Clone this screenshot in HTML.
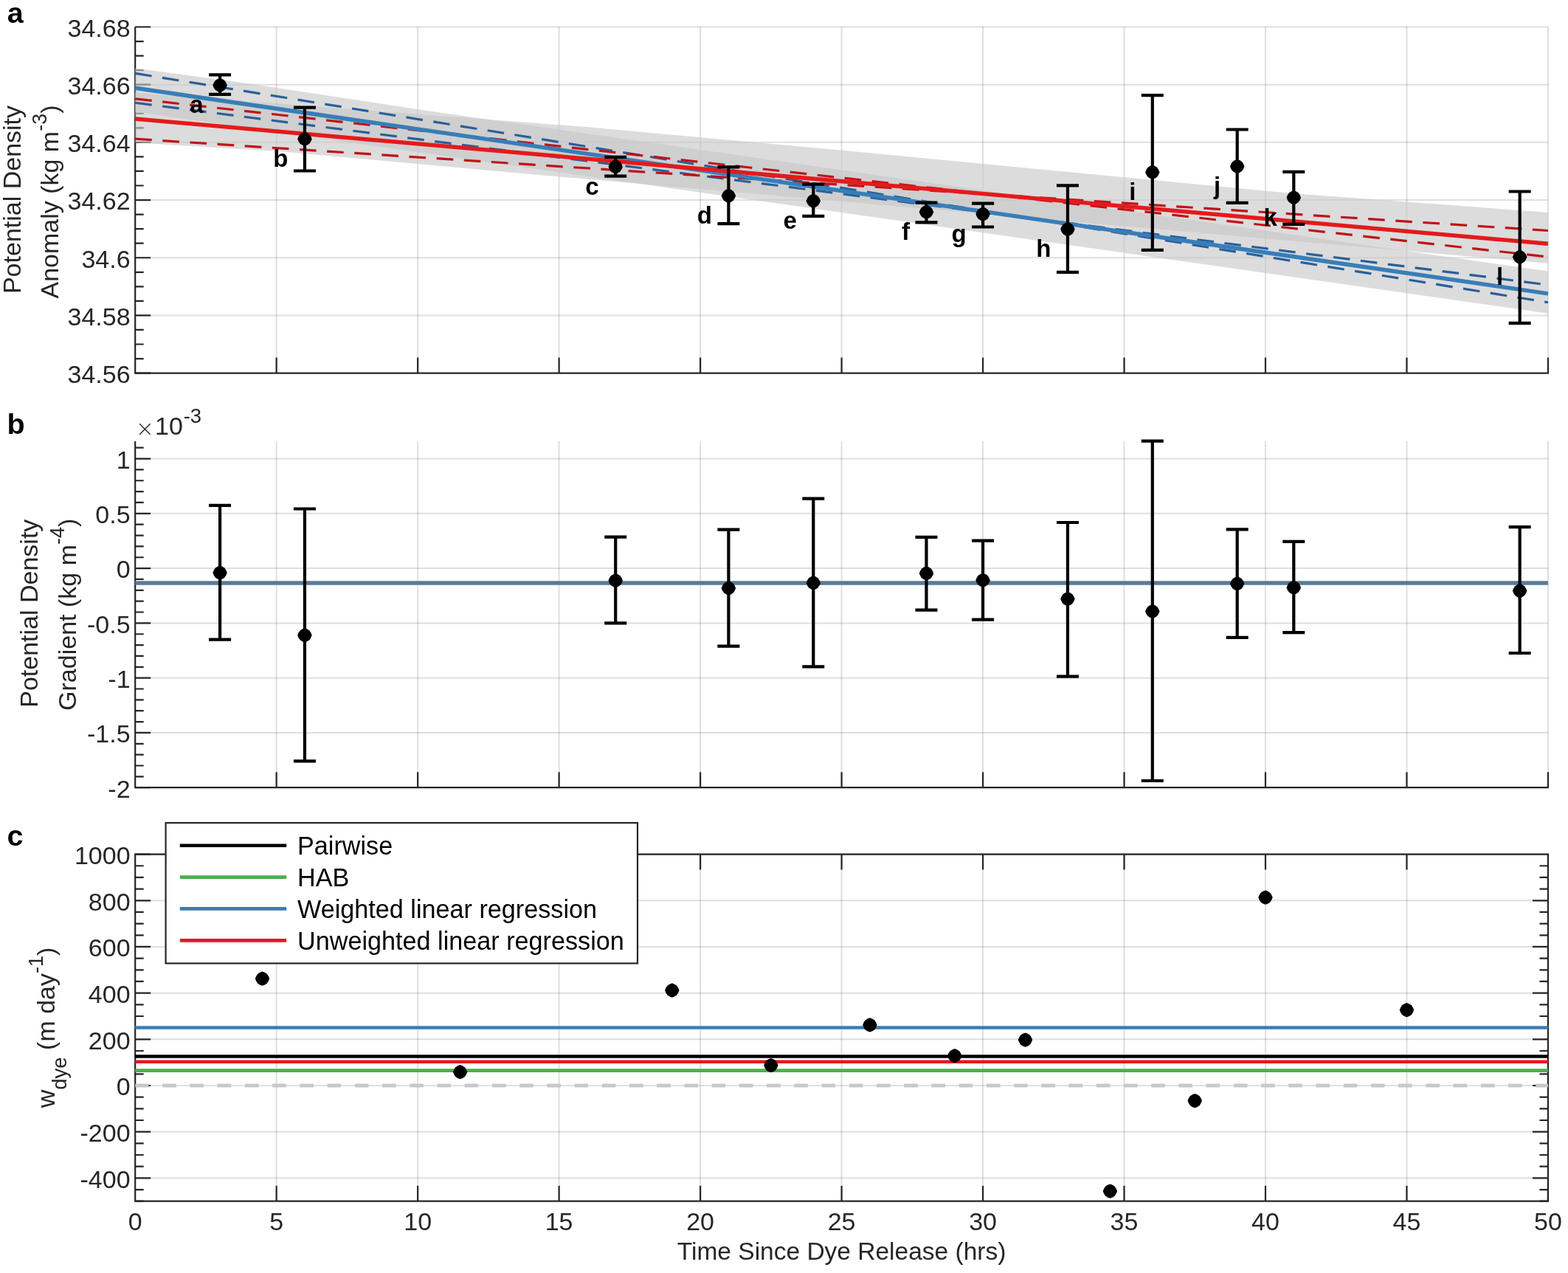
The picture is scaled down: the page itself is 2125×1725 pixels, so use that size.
<!DOCTYPE html><html><head><meta charset="utf-8"><title>Figure</title>
<style>html,body{margin:0;padding:0;background:#fff;}svg{display:block;}text{font-family:'Liberation Sans', Arial, Helvetica, sans-serif;}</style></head><body>
<svg width="2125" height="1725" viewBox="0 0 2125 1725">
<rect width="2125" height="1725" fill="#fff"/>
<path d="M374.68 36.5V505.6 M566.15 36.5V505.6 M757.62 36.5V505.6 M949.1 36.5V505.6 M1140.58 36.5V505.6 M1332.05 36.5V505.6 M1523.53 36.5V505.6 M1715 36.5V505.6 M1906.48 36.5V505.6 M2097.95 36.5V505.6" stroke="#262626" stroke-opacity="0.15" stroke-width="2" fill="none"/>
<path d="M183.2 427.42H2097.95 M183.2 349.23H2097.95 M183.2 271.05H2097.95 M183.2 192.87H2097.95 M183.2 114.68H2097.95 M183.2 36.5H2097.95" stroke="#262626" stroke-opacity="0.15" stroke-width="2" fill="none"/>
<path d="M183.2 36.5V505.6 M183.2 505.6h21 M183.2 427.42h21 M183.2 349.23h21 M183.2 271.05h21 M183.2 192.87h21 M183.2 114.68h21 M183.2 36.5h21 M183.2 486.05h11.5 M183.2 466.51h11.5 M183.2 446.96h11.5 M183.2 407.87h11.5 M183.2 388.32h11.5 M183.2 368.78h11.5 M183.2 329.69h11.5 M183.2 310.14h11.5 M183.2 290.6h11.5 M183.2 251.5h11.5 M183.2 231.96h11.5 M183.2 212.41h11.5 M183.2 173.32h11.5 M183.2 153.77h11.5 M183.2 134.23h11.5 M183.2 95.14h11.5 M183.2 75.59h11.5 M183.2 56.05h11.5" stroke="#262626" stroke-width="2.2" fill="none"/>
<path d="M182.1 505.6H2099.05 M374.68 505.6v-21 M566.15 505.6v-21 M757.62 505.6v-21 M949.1 505.6v-21 M1140.58 505.6v-21 M1332.05 505.6v-21 M1523.53 505.6v-21 M1715 505.6v-21 M1906.48 505.6v-21 M2097.95 505.6v-21" stroke="#262626" stroke-width="2.2" fill="none"/>
<path d="M183.2 125.7L800 172.4L1150 204.5L1750 261.9L2097.95 287.9L2097.95 356.9L705 234.8L383 205.5L183.2 193.3Z" fill="#c7c7c7" fill-opacity="0.63"/>
<path d="M183.2 92.5L332 112.5L568 148.4L2097.95 367.6L2097.95 424.7L183.2 151.5Z" fill="#c7c7c7" fill-opacity="0.63"/>
<path d="M183.2 99.38L2097.95 409.77" stroke="#2a5f9a" stroke-width="3.2" stroke-dasharray="22.65 14.56" fill="none"/>
<path d="M183.2 139.22L2097.95 386.03" stroke="#2a5f9a" stroke-width="3.2" stroke-dasharray="22.65 14.56" fill="none"/>
<path d="M183.2 133.82L2097.95 348.11" stroke="#be1419" stroke-width="3.2" stroke-dasharray="22.65 14.56" fill="none"/>
<path d="M183.2 188.18L2097.95 312.49" stroke="#be1419" stroke-width="3.2" stroke-dasharray="22.65 14.56" fill="none"/>
<path d="M183.2 119.3L2097.95 397.9" stroke="#377eb8" stroke-width="5.5" fill="none"/>
<path d="M183.2 161L2097.95 330.3" stroke="#e41a1c" stroke-width="5.5" fill="none"/>
<path d="M298.08 101.4V127.8M283.08 101.4h30M283.08 127.8h30" stroke="#000" stroke-width="4.2" fill="none"/>
<polygon points="307.78,115.5 306.4,118.94 304.45,121.86 301.53,123.81 298.08,125.2 294.64,123.81 291.72,121.86 289.77,118.94 288.38,115.5 289.77,112.06 291.72,109.14 294.64,107.19 298.08,105.8 301.53,107.19 304.45,109.14 306.4,112.06" fill="#000"/>
<path d="M412.97 145.7V231.5M397.97 145.7h30M397.97 231.5h30" stroke="#000" stroke-width="4.2" fill="none"/>
<polygon points="422.67,188.3 421.28,191.74 419.33,194.66 416.41,196.61 412.97,198 409.53,196.61 406.61,194.66 404.66,191.74 403.27,188.3 404.66,184.86 406.61,181.94 409.53,179.99 412.97,178.6 416.41,179.99 419.33,181.94 421.28,184.86" fill="#000"/>
<path d="M834.21 212.9V238.6M819.21 212.9h30M819.21 238.6h30" stroke="#000" stroke-width="4.2" fill="none"/>
<polygon points="843.91,225.9 842.53,229.34 840.58,232.26 837.66,234.21 834.21,235.6 830.77,234.21 827.85,232.26 825.9,229.34 824.51,225.9 825.9,222.46 827.85,219.54 830.77,217.59 834.21,216.2 837.66,217.59 840.58,219.54 842.53,222.46" fill="#000"/>
<path d="M987.39 226.4V303.2M972.39 226.4h30M972.39 303.2h30" stroke="#000" stroke-width="4.2" fill="none"/>
<polygon points="997.1,265.4 995.71,268.84 993.76,271.76 990.84,273.71 987.39,275.1 983.95,273.71 981.03,271.76 979.08,268.84 977.69,265.4 979.08,261.96 981.03,259.04 983.95,257.09 987.39,255.7 990.84,257.09 993.76,259.04 995.71,261.96" fill="#000"/>
<path d="M1102.28 249.6V292.8M1087.28 249.6h30M1087.28 292.8h30" stroke="#000" stroke-width="4.2" fill="none"/>
<polygon points="1111.98,272.2 1110.59,275.64 1108.64,278.56 1105.72,280.51 1102.28,281.9 1098.84,280.51 1095.92,278.56 1093.97,275.64 1092.58,272.2 1093.97,268.76 1095.92,265.84 1098.84,263.89 1102.28,262.5 1105.72,263.89 1108.64,265.84 1110.59,268.76" fill="#000"/>
<path d="M1255.46 274.6V301.4M1240.46 274.6h30M1240.46 301.4h30" stroke="#000" stroke-width="4.2" fill="none"/>
<polygon points="1265.16,287.3 1263.77,290.74 1261.82,293.66 1258.9,295.61 1255.46,297 1252.02,295.61 1249.1,293.66 1247.15,290.74 1245.76,287.3 1247.15,283.86 1249.1,280.94 1252.02,278.99 1255.46,277.6 1258.9,278.99 1261.82,280.94 1263.77,283.86" fill="#000"/>
<path d="M1332.05 275.6V307.5M1317.05 275.6h30M1317.05 307.5h30" stroke="#000" stroke-width="4.2" fill="none"/>
<polygon points="1341.75,290.1 1340.36,293.54 1338.41,296.46 1335.49,298.41 1332.05,299.8 1328.61,298.41 1325.69,296.46 1323.74,293.54 1322.35,290.1 1323.74,286.66 1325.69,283.74 1328.61,281.79 1332.05,280.4 1335.49,281.79 1338.41,283.74 1340.36,286.66" fill="#000"/>
<path d="M1446.94 251.3V368.8M1431.94 251.3h30M1431.94 368.8h30" stroke="#000" stroke-width="4.2" fill="none"/>
<polygon points="1456.64,310.6 1455.25,314.04 1453.3,316.96 1450.38,318.91 1446.94,320.3 1443.49,318.91 1440.57,316.96 1438.62,314.04 1437.24,310.6 1438.62,307.16 1440.57,304.24 1443.49,302.29 1446.94,300.9 1450.38,302.29 1453.3,304.24 1455.25,307.16" fill="#000"/>
<path d="M1561.82 129.2V338.8M1546.82 129.2h30M1546.82 338.8h30" stroke="#000" stroke-width="4.2" fill="none"/>
<polygon points="1571.52,233.4 1570.13,236.84 1568.18,239.76 1565.26,241.71 1561.82,243.1 1558.38,241.71 1555.46,239.76 1553.51,236.84 1552.12,233.4 1553.51,229.96 1555.46,227.04 1558.38,225.09 1561.82,223.7 1565.26,225.09 1568.18,227.04 1570.13,229.96" fill="#000"/>
<path d="M1676.71 175.5V274.9M1661.71 175.5h30M1661.71 274.9h30" stroke="#000" stroke-width="4.2" fill="none"/>
<polygon points="1686.41,225.5 1685.02,228.94 1683.07,231.86 1680.15,233.81 1676.71,235.2 1673.26,233.81 1670.34,231.86 1668.39,228.94 1667.01,225.5 1668.39,222.06 1670.34,219.14 1673.26,217.19 1676.71,215.8 1680.15,217.19 1683.07,219.14 1685.02,222.06" fill="#000"/>
<path d="M1753.3 232.8V303.8M1738.3 232.8h30M1738.3 303.8h30" stroke="#000" stroke-width="4.2" fill="none"/>
<polygon points="1763,267.7 1761.61,271.14 1759.66,274.06 1756.74,276.01 1753.3,277.4 1749.85,276.01 1746.93,274.06 1744.98,271.14 1743.6,267.7 1744.98,264.26 1746.93,261.34 1749.85,259.39 1753.3,258 1756.74,259.39 1759.66,261.34 1761.61,264.26" fill="#000"/>
<path d="M2059.66 259.5V437.8M2044.66 259.5h30M2044.66 437.8h30" stroke="#000" stroke-width="4.2" fill="none"/>
<polygon points="2069.36,348.3 2067.97,351.74 2066.02,354.66 2063.1,356.61 2059.66,358 2056.21,356.61 2053.29,354.66 2051.34,351.74 2049.96,348.3 2051.34,344.86 2053.29,341.94 2056.21,339.99 2059.66,338.6 2063.1,339.99 2066.02,341.94 2067.97,344.86" fill="#000"/>
<text x="275.58" y="153.3" text-anchor="end" font-size="33" font-weight="bold" fill="#000">a</text>
<text x="390.47" y="226.1" text-anchor="end" font-size="33" font-weight="bold" fill="#000">b</text>
<text x="811.71" y="263.7" text-anchor="end" font-size="33" font-weight="bold" fill="#000">c</text>
<text x="964.89" y="303.2" text-anchor="end" font-size="33" font-weight="bold" fill="#000">d</text>
<text x="1079.78" y="310" text-anchor="end" font-size="33" font-weight="bold" fill="#000">e</text>
<text x="1232.96" y="325.1" text-anchor="end" font-size="33" font-weight="bold" fill="#000">f</text>
<text x="1309.55" y="327.9" text-anchor="end" font-size="33" font-weight="bold" fill="#000">g</text>
<text x="1424.44" y="348.4" text-anchor="end" font-size="33" font-weight="bold" fill="#000">h</text>
<text x="1539.32" y="271.2" text-anchor="end" font-size="33" font-weight="bold" fill="#000">i</text>
<text x="1654.21" y="263.3" text-anchor="end" font-size="33" font-weight="bold" fill="#000">j</text>
<text x="1730.8" y="305.5" text-anchor="end" font-size="33" font-weight="bold" fill="#000">k</text>
<text x="2037.16" y="386.1" text-anchor="end" font-size="33" font-weight="bold" fill="#000">l</text>
<text x="176.6" y="518.9" text-anchor="end" font-size="34" fill="#262626">34.56</text>
<text x="176.6" y="440.72" text-anchor="end" font-size="34" fill="#262626">34.58</text>
<text x="176.6" y="362.53" text-anchor="end" font-size="34" fill="#262626">34.6</text>
<text x="176.6" y="284.35" text-anchor="end" font-size="34" fill="#262626">34.62</text>
<text x="176.6" y="206.17" text-anchor="end" font-size="34" fill="#262626">34.64</text>
<text x="176.6" y="127.98" text-anchor="end" font-size="34" fill="#262626">34.66</text>
<text x="176.6" y="49.8" text-anchor="end" font-size="34" fill="#262626">34.68</text>
<text transform="translate(27.6 270.5) rotate(-90)" text-anchor="middle" font-size="34" fill="#262626">Potential Density</text>
<text transform="translate(78.8 273.5) rotate(-90)" text-anchor="middle" font-size="34" fill="#262626">Anomaly (kg m<tspan font-size="27" dy="-16">-3</tspan><tspan dy="16">)</tspan></text>
<text x="9.8" y="31" font-size="39.5" font-weight="bold" fill="#000">a</text>
<path d="M374.68 598V1067.2 M566.15 598V1067.2 M757.62 598V1067.2 M949.1 598V1067.2 M1140.58 598V1067.2 M1332.05 598V1067.2 M1523.53 598V1067.2 M1715 598V1067.2 M1906.48 598V1067.2 M2097.95 598V1067.2" stroke="#262626" stroke-opacity="0.15" stroke-width="2" fill="none"/>
<path d="M183.2 992.93H2097.95 M183.2 918.65H2097.95 M183.2 844.38H2097.95 M183.2 770.1H2097.95 M183.2 695.83H2097.95 M183.2 621.55H2097.95" stroke="#262626" stroke-opacity="0.15" stroke-width="2" fill="none"/>
<path d="M183.2 598V1067.2 M183.2 1067.2h21 M183.2 992.93h21 M183.2 918.65h21 M183.2 844.38h21 M183.2 770.1h21 M183.2 695.83h21 M183.2 621.55h21 M183.2 1052.35h11.5 M183.2 1037.49h11.5 M183.2 1022.63h11.5 M183.2 1007.78h11.5 M183.2 978.07h11.5 M183.2 963.22h11.5 M183.2 948.36h11.5 M183.2 933.51h11.5 M183.2 903.8h11.5 M183.2 888.94h11.5 M183.2 874.09h11.5 M183.2 859.23h11.5 M183.2 829.52h11.5 M183.2 814.66h11.5 M183.2 799.81h11.5 M183.2 784.96h11.5 M183.2 755.25h11.5 M183.2 740.39h11.5 M183.2 725.53h11.5 M183.2 710.68h11.5 M183.2 680.97h11.5 M183.2 666.12h11.5 M183.2 651.26h11.5 M183.2 636.4h11.5 M183.2 606.69h11.5" stroke="#262626" stroke-width="2.2" fill="none"/>
<path d="M182.1 1067.2H2099.05 M374.68 1067.2v-21 M566.15 1067.2v-21 M757.62 1067.2v-21 M949.1 1067.2v-21 M1140.58 1067.2v-21 M1332.05 1067.2v-21 M1523.53 1067.2v-21 M1715 1067.2v-21 M1906.48 1067.2v-21 M2097.95 1067.2v-21" stroke="#262626" stroke-width="2.2" fill="none"/>
<path d="M183.2 789.9H2097.95" stroke="#587b9b" stroke-width="5.5" fill="none"/>
<path d="M298.08 684.9V866.7M283.08 684.9h30M283.08 866.7h30" stroke="#000" stroke-width="4.2" fill="none"/>
<polygon points="307.78,776.1 306.4,779.54 304.45,782.46 301.53,784.41 298.08,785.8 294.64,784.41 291.72,782.46 289.77,779.54 288.38,776.1 289.77,772.66 291.72,769.74 294.64,767.79 298.08,766.4 301.53,767.79 304.45,769.74 306.4,772.66" fill="#000"/>
<path d="M412.97 689.5V1031.4M397.97 689.5h30M397.97 1031.4h30" stroke="#000" stroke-width="4.2" fill="none"/>
<polygon points="422.67,860.8 421.28,864.24 419.33,867.16 416.41,869.11 412.97,870.5 409.53,869.11 406.61,867.16 404.66,864.24 403.27,860.8 404.66,857.36 406.61,854.44 409.53,852.49 412.97,851.1 416.41,852.49 419.33,854.44 421.28,857.36" fill="#000"/>
<path d="M834.21 727.7V844.3M819.21 727.7h30M819.21 844.3h30" stroke="#000" stroke-width="4.2" fill="none"/>
<polygon points="843.91,786.7 842.53,790.14 840.58,793.06 837.66,795.01 834.21,796.4 830.77,795.01 827.85,793.06 825.9,790.14 824.51,786.7 825.9,783.26 827.85,780.34 830.77,778.39 834.21,777 837.66,778.39 840.58,780.34 842.53,783.26" fill="#000"/>
<path d="M987.39 717.6V875.7M972.39 717.6h30M972.39 875.7h30" stroke="#000" stroke-width="4.2" fill="none"/>
<polygon points="997.1,797 995.71,800.44 993.76,803.36 990.84,805.31 987.39,806.7 983.95,805.31 981.03,803.36 979.08,800.44 977.69,797 979.08,793.56 981.03,790.64 983.95,788.69 987.39,787.3 990.84,788.69 993.76,790.64 995.71,793.56" fill="#000"/>
<path d="M1102.28 675.6V903.4M1087.28 675.6h30M1087.28 903.4h30" stroke="#000" stroke-width="4.2" fill="none"/>
<polygon points="1111.98,789.9 1110.59,793.34 1108.64,796.26 1105.72,798.21 1102.28,799.6 1098.84,798.21 1095.92,796.26 1093.97,793.34 1092.58,789.9 1093.97,786.46 1095.92,783.54 1098.84,781.59 1102.28,780.2 1105.72,781.59 1108.64,783.54 1110.59,786.46" fill="#000"/>
<path d="M1255.46 727.8V826.6M1240.46 727.8h30M1240.46 826.6h30" stroke="#000" stroke-width="4.2" fill="none"/>
<polygon points="1265.16,776.9 1263.77,780.34 1261.82,783.26 1258.9,785.21 1255.46,786.6 1252.02,785.21 1249.1,783.26 1247.15,780.34 1245.76,776.9 1247.15,773.46 1249.1,770.54 1252.02,768.59 1255.46,767.2 1258.9,768.59 1261.82,770.54 1263.77,773.46" fill="#000"/>
<path d="M1332.05 732.6V839.6M1317.05 732.6h30M1317.05 839.6h30" stroke="#000" stroke-width="4.2" fill="none"/>
<polygon points="1341.75,786.2 1340.36,789.64 1338.41,792.56 1335.49,794.51 1332.05,795.9 1328.61,794.51 1325.69,792.56 1323.74,789.64 1322.35,786.2 1323.74,782.76 1325.69,779.84 1328.61,777.89 1332.05,776.5 1335.49,777.89 1338.41,779.84 1340.36,782.76" fill="#000"/>
<path d="M1446.94 708V916.7M1431.94 708h30M1431.94 916.7h30" stroke="#000" stroke-width="4.2" fill="none"/>
<polygon points="1456.64,811.6 1455.25,815.04 1453.3,817.96 1450.38,819.91 1446.94,821.3 1443.49,819.91 1440.57,817.96 1438.62,815.04 1437.24,811.6 1438.62,808.16 1440.57,805.24 1443.49,803.29 1446.94,801.9 1450.38,803.29 1453.3,805.24 1455.25,808.16" fill="#000"/>
<path d="M1561.82 597.6V1058M1546.82 597.6h30M1546.82 1058h30" stroke="#000" stroke-width="4.2" fill="none"/>
<polygon points="1571.52,828.5 1570.13,831.94 1568.18,834.86 1565.26,836.81 1561.82,838.2 1558.38,836.81 1555.46,834.86 1553.51,831.94 1552.12,828.5 1553.51,825.06 1555.46,822.14 1558.38,820.19 1561.82,818.8 1565.26,820.19 1568.18,822.14 1570.13,825.06" fill="#000"/>
<path d="M1676.71 717.4V863.8M1661.71 717.4h30M1661.71 863.8h30" stroke="#000" stroke-width="4.2" fill="none"/>
<polygon points="1686.41,790.9 1685.02,794.34 1683.07,797.26 1680.15,799.21 1676.71,800.6 1673.26,799.21 1670.34,797.26 1668.39,794.34 1667.01,790.9 1668.39,787.46 1670.34,784.54 1673.26,782.59 1676.71,781.2 1680.15,782.59 1683.07,784.54 1685.02,787.46" fill="#000"/>
<path d="M1753.3 733.8V857.1M1738.3 733.8h30M1738.3 857.1h30" stroke="#000" stroke-width="4.2" fill="none"/>
<polygon points="1763,796.2 1761.61,799.64 1759.66,802.56 1756.74,804.51 1753.3,805.9 1749.85,804.51 1746.93,802.56 1744.98,799.64 1743.6,796.2 1744.98,792.76 1746.93,789.84 1749.85,787.89 1753.3,786.5 1756.74,787.89 1759.66,789.84 1761.61,792.76" fill="#000"/>
<path d="M2059.66 714.1V885M2044.66 714.1h30M2044.66 885h30" stroke="#000" stroke-width="4.2" fill="none"/>
<polygon points="2069.36,800.6 2067.97,804.04 2066.02,806.96 2063.1,808.91 2059.66,810.3 2056.21,808.91 2053.29,806.96 2051.34,804.04 2049.96,800.6 2051.34,797.16 2053.29,794.24 2056.21,792.29 2059.66,790.9 2063.1,792.29 2066.02,794.24 2067.97,797.16" fill="#000"/>
<text x="176.6" y="1080.5" text-anchor="end" font-size="34" fill="#262626">-2</text>
<text x="176.6" y="1006.23" text-anchor="end" font-size="34" fill="#262626">-1.5</text>
<text x="176.6" y="931.95" text-anchor="end" font-size="34" fill="#262626">-1</text>
<text x="176.6" y="857.67" text-anchor="end" font-size="34" fill="#262626">-0.5</text>
<text x="176.6" y="783.4" text-anchor="end" font-size="34" fill="#262626">0</text>
<text x="176.6" y="709.12" text-anchor="end" font-size="34" fill="#262626">0.5</text>
<text x="176.6" y="634.85" text-anchor="end" font-size="34" fill="#262626">1</text>
<text font-size="34" fill="#262626"><tspan x="184.1" y="590.6" font-family="DejaVu Sans" font-weight="200" font-size="29.6">×</tspan><tspan x="210" y="588.8">10</tspan><tspan x="248.7" y="572.7" font-size="27.5">-3</tspan></text>
<text transform="translate(51.3 831.2) rotate(-90)" text-anchor="middle" font-size="34" fill="#262626">Potential Density</text>
<text transform="translate(102.5 832.8) rotate(-90)" text-anchor="middle" font-size="34" fill="#262626">Gradient (kg m<tspan font-size="27" dy="-16">-4</tspan><tspan dy="16">)</tspan></text>
<text x="9.4" y="588.3" font-size="39.5" font-weight="bold" fill="#000">b</text>
<path d="M374.68 1157.6V1627.7 M566.15 1157.6V1627.7 M757.62 1157.6V1627.7 M949.1 1157.6V1627.7 M1140.58 1157.6V1627.7 M1332.05 1157.6V1627.7 M1523.53 1157.6V1627.7 M1715 1157.6V1627.7 M1906.48 1157.6V1627.7 M2097.95 1157.6V1627.7" stroke="#262626" stroke-opacity="0.15" stroke-width="2" fill="none"/>
<path d="M183.2 1596.36H2097.95 M183.2 1533.68H2097.95 M183.2 1471H2097.95 M183.2 1408.32H2097.95 M183.2 1345.64H2097.95 M183.2 1282.96H2097.95 M183.2 1220.28H2097.95 M183.2 1157.6H2097.95" stroke="#262626" stroke-opacity="0.15" stroke-width="2" fill="none"/>
<path d="M183.2 1471H2097.95" stroke="#c8c8c8" stroke-width="4.6" stroke-dasharray="18.3 18.92" fill="none"/>
<path d="M183.2 1157.6V1627.7 M183.2 1596.36h21 M183.2 1533.68h21 M183.2 1471h21 M183.2 1408.32h21 M183.2 1345.64h21 M183.2 1282.96h21 M183.2 1220.28h21 M183.2 1157.6h21 M183.2 1627.7h11.5 M183.2 1612.03h11.5 M183.2 1580.69h11.5 M183.2 1565.02h11.5 M183.2 1549.35h11.5 M183.2 1518.01h11.5 M183.2 1502.34h11.5 M183.2 1486.67h11.5 M183.2 1455.33h11.5 M183.2 1439.66h11.5 M183.2 1423.99h11.5 M183.2 1392.65h11.5 M183.2 1376.98h11.5 M183.2 1361.31h11.5 M183.2 1329.97h11.5 M183.2 1314.3h11.5 M183.2 1298.63h11.5 M183.2 1267.29h11.5 M183.2 1251.62h11.5 M183.2 1235.95h11.5 M183.2 1204.61h11.5 M183.2 1188.94h11.5 M183.2 1173.27h11.5 M2097.95 1157.6V1627.7 M2097.95 1596.36h-21 M2097.95 1533.68h-21 M2097.95 1471h-21 M2097.95 1408.32h-21 M2097.95 1345.64h-21 M2097.95 1282.96h-21 M2097.95 1220.28h-21 M2097.95 1627.7h-11.5 M2097.95 1612.03h-11.5 M2097.95 1580.69h-11.5 M2097.95 1565.02h-11.5 M2097.95 1549.35h-11.5 M2097.95 1518.01h-11.5 M2097.95 1502.34h-11.5 M2097.95 1486.67h-11.5 M2097.95 1455.33h-11.5 M2097.95 1439.66h-11.5 M2097.95 1423.99h-11.5 M2097.95 1392.65h-11.5 M2097.95 1376.98h-11.5 M2097.95 1361.31h-11.5 M2097.95 1329.97h-11.5 M2097.95 1314.3h-11.5 M2097.95 1298.63h-11.5 M2097.95 1267.29h-11.5 M2097.95 1251.62h-11.5 M2097.95 1235.95h-11.5 M2097.95 1204.61h-11.5 M2097.95 1188.94h-11.5 M2097.95 1173.27h-11.5" stroke="#262626" stroke-width="2.2" fill="none"/>
<path d="M182.1 1627.7H2099.05 M374.68 1627.7v-21 M566.15 1627.7v-21 M757.62 1627.7v-21 M949.1 1627.7v-21 M1140.58 1627.7v-21 M1332.05 1627.7v-21 M1523.53 1627.7v-21 M1715 1627.7v-21 M1906.48 1627.7v-21 M2097.95 1627.7v-21 M182.1 1157.6H2099.05 M374.68 1157.6v21 M566.15 1157.6v21 M757.62 1157.6v21 M949.1 1157.6v21 M1140.58 1157.6v21 M1332.05 1157.6v21 M1523.53 1157.6v21 M1715 1157.6v21 M1906.48 1157.6v21" stroke="#262626" stroke-width="2.2" fill="none"/>
<path d="M183.2 1471H2097.95" stroke="#c8c8c8" stroke-width="4.6" stroke-dasharray="18.3 18.92" fill="none"/>
<path d="M183.2 1392.5H2097.95" stroke="#377eb8" stroke-width="4.6" fill="none"/>
<path d="M183.2 1431.5H2097.95" stroke="#000" stroke-width="4.6" fill="none"/>
<path d="M183.2 1438.8H2097.95" stroke="#e41a1c" stroke-width="4.6" fill="none"/>
<path d="M183.2 1450.6H2097.95" stroke="#4daf4a" stroke-width="4.6" fill="none"/>
<polygon points="365.23,1326.1 363.84,1329.54 361.89,1332.46 358.97,1334.41 355.53,1335.8 352.08,1334.41 349.16,1332.46 347.21,1329.54 345.83,1326.1 347.21,1322.66 349.16,1319.74 352.08,1317.79 355.53,1316.4 358.97,1317.79 361.89,1319.74 363.84,1322.66" fill="#000"/>
<polygon points="633.29,1452.6 631.91,1456.04 629.96,1458.96 627.04,1460.91 623.59,1462.3 620.15,1460.91 617.23,1458.96 615.28,1456.04 613.89,1452.6 615.28,1449.16 617.23,1446.24 620.15,1444.29 623.59,1442.9 627.04,1444.29 629.96,1446.24 631.91,1449.16" fill="#000"/>
<polygon points="920.51,1342 919.12,1345.44 917.17,1348.36 914.25,1350.31 910.81,1351.7 907.36,1350.31 904.44,1348.36 902.49,1345.44 901.11,1342 902.49,1338.56 904.44,1335.64 907.36,1333.69 910.81,1332.3 914.25,1333.69 917.17,1335.64 919.12,1338.56" fill="#000"/>
<polygon points="1054.54,1443.6 1053.15,1447.04 1051.2,1449.96 1048.28,1451.91 1044.84,1453.3 1041.39,1451.91 1038.47,1449.96 1036.52,1447.04 1035.14,1443.6 1036.52,1440.16 1038.47,1437.24 1041.39,1435.29 1044.84,1433.9 1048.28,1435.29 1051.2,1437.24 1053.15,1440.16" fill="#000"/>
<polygon points="1188.57,1388.9 1187.18,1392.34 1185.23,1395.26 1182.31,1397.21 1178.87,1398.6 1175.43,1397.21 1172.51,1395.26 1170.56,1392.34 1169.17,1388.9 1170.56,1385.46 1172.51,1382.54 1175.43,1380.59 1178.87,1379.2 1182.31,1380.59 1185.23,1382.54 1187.18,1385.46" fill="#000"/>
<polygon points="1303.46,1430.8 1302.07,1434.24 1300.12,1437.16 1297.2,1439.11 1293.76,1440.5 1290.31,1439.11 1287.39,1437.16 1285.44,1434.24 1284.06,1430.8 1285.44,1427.36 1287.39,1424.44 1290.31,1422.49 1293.76,1421.1 1297.2,1422.49 1300.12,1424.44 1302.07,1427.36" fill="#000"/>
<polygon points="1399.19,1409.1 1397.81,1412.54 1395.86,1415.46 1392.94,1417.41 1389.49,1418.8 1386.05,1417.41 1383.13,1415.46 1381.18,1412.54 1379.79,1409.1 1381.18,1405.66 1383.13,1402.74 1386.05,1400.79 1389.49,1399.4 1392.94,1400.79 1395.86,1402.74 1397.81,1405.66" fill="#000"/>
<polygon points="1514.08,1614.1 1512.69,1617.54 1510.74,1620.46 1507.82,1622.41 1504.38,1623.8 1500.93,1622.41 1498.01,1620.46 1496.06,1617.54 1494.68,1614.1 1496.06,1610.66 1498.01,1607.74 1500.93,1605.79 1504.38,1604.4 1507.82,1605.79 1510.74,1607.74 1512.69,1610.66" fill="#000"/>
<polygon points="1628.96,1491.6 1627.58,1495.04 1625.63,1497.96 1622.71,1499.91 1619.26,1501.3 1615.82,1499.91 1612.9,1497.96 1610.95,1495.04 1609.56,1491.6 1610.95,1488.16 1612.9,1485.24 1615.82,1483.29 1619.26,1481.9 1622.71,1483.29 1625.63,1485.24 1627.58,1488.16" fill="#000"/>
<polygon points="1724.7,1216.1 1723.31,1219.54 1721.36,1222.46 1718.44,1224.41 1715,1225.8 1711.56,1224.41 1708.64,1222.46 1706.69,1219.54 1705.3,1216.1 1706.69,1212.66 1708.64,1209.74 1711.56,1207.79 1715,1206.4 1718.44,1207.79 1721.36,1209.74 1723.31,1212.66" fill="#000"/>
<polygon points="1916.18,1368.6 1914.79,1372.04 1912.84,1374.96 1909.92,1376.91 1906.48,1378.3 1903.03,1376.91 1900.11,1374.96 1898.16,1372.04 1896.78,1368.6 1898.16,1365.16 1900.11,1362.24 1903.03,1360.29 1906.48,1358.9 1909.92,1360.29 1912.84,1362.24 1914.79,1365.16" fill="#000"/>
<text x="176.6" y="1609.66" text-anchor="end" font-size="34" fill="#262626">-400</text>
<text x="176.6" y="1546.98" text-anchor="end" font-size="34" fill="#262626">-200</text>
<text x="176.6" y="1484.3" text-anchor="end" font-size="34" fill="#262626">0</text>
<text x="176.6" y="1421.62" text-anchor="end" font-size="34" fill="#262626">200</text>
<text x="176.6" y="1358.94" text-anchor="end" font-size="34" fill="#262626">400</text>
<text x="176.6" y="1296.26" text-anchor="end" font-size="34" fill="#262626">600</text>
<text x="176.6" y="1233.58" text-anchor="end" font-size="34" fill="#262626">800</text>
<text x="176.6" y="1170.9" text-anchor="end" font-size="34" fill="#262626">1000</text>
<text x="183.2" y="1667.3" text-anchor="middle" font-size="34" fill="#262626">0</text>
<text x="374.68" y="1667.3" text-anchor="middle" font-size="34" fill="#262626">5</text>
<text x="566.15" y="1667.3" text-anchor="middle" font-size="34" fill="#262626">10</text>
<text x="757.62" y="1667.3" text-anchor="middle" font-size="34" fill="#262626">15</text>
<text x="949.1" y="1667.3" text-anchor="middle" font-size="34" fill="#262626">20</text>
<text x="1140.58" y="1667.3" text-anchor="middle" font-size="34" fill="#262626">25</text>
<text x="1332.05" y="1667.3" text-anchor="middle" font-size="34" fill="#262626">30</text>
<text x="1523.53" y="1667.3" text-anchor="middle" font-size="34" fill="#262626">35</text>
<text x="1715" y="1667.3" text-anchor="middle" font-size="34" fill="#262626">40</text>
<text x="1906.48" y="1667.3" text-anchor="middle" font-size="34" fill="#262626">45</text>
<text x="2097.95" y="1667.3" text-anchor="middle" font-size="34" fill="#262626">50</text>
<text x="1140.57" y="1707.2" text-anchor="middle" font-size="33.5" fill="#262626">Time Since Dye Release (hrs)</text>
<text transform="translate(73.5 1392.5) rotate(-90)" text-anchor="middle" font-size="34" fill="#262626">w<tspan font-size="27.5" dy="16.8">dye</tspan><tspan dy="-16.8"> (m day</tspan><tspan font-size="27" dy="-16">-1</tspan><tspan dy="16">)</tspan></text>
<text x="9.6" y="1146.3" font-size="39.5" font-weight="bold" fill="#000">c</text>
<rect x="224.6" y="1115" width="639.4" height="190.4" fill="#fff" stroke="#262626" stroke-width="2.2"/>
<path d="M243.8 1145.8H388.2" stroke="#000" stroke-width="4.6" fill="none"/>
<text x="403" y="1158.1" font-size="34.2" fill="#000">Pairwise</text>
<path d="M243.8 1188.6H388.2" stroke="#4daf4a" stroke-width="4.6" fill="none"/>
<text x="403" y="1200.9" font-size="34.2" fill="#000">HAB</text>
<path d="M243.8 1231.4H388.2" stroke="#377eb8" stroke-width="4.6" fill="none"/>
<text x="403" y="1243.7" font-size="34.2" fill="#000">Weighted linear regression</text>
<path d="M243.8 1274.4H388.2" stroke="#e41a1c" stroke-width="4.6" fill="none"/>
<text x="403" y="1286.7" font-size="34.2" fill="#000">Unweighted linear regression</text>
</svg></body></html>
